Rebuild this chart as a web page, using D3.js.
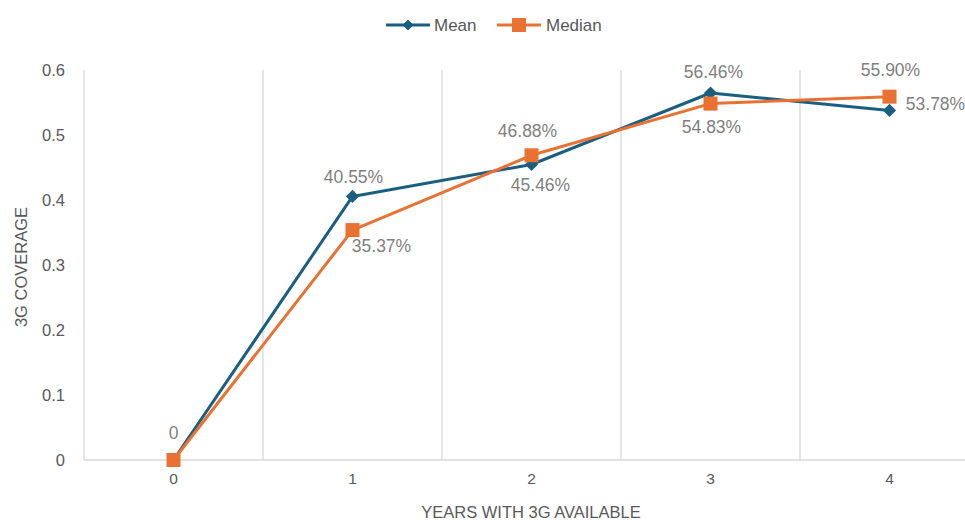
<!DOCTYPE html>
<html><head><meta charset="utf-8">
<script src="https://cdn.jsdelivr.net/npm/d3@7"></script>
<style>body{margin:0;background:#fff}svg{display:block}text{font-family:"Liberation Sans",Arial,sans-serif}</style>
</head><body><svg id="c" width="965" height="520"></svg>
<script>
const categories = ["0","1","2","3","4"];
const meanValues = [0, 0.4055, 0.4546, 0.5646, 0.5378];
const medianValues = [0, 0.3537, 0.4688, 0.5483, 0.5590];
const meanLabels = ["0", "40.55%", "45.46%", "56.46%", "53.78%"];
const medianLabels = ["", "35.37%", "46.88%", "54.83%", "55.90%"];
const yTicks = [0, 0.1, 0.2, 0.3, 0.4, 0.5, 0.6];
const yTickLabels = ["0", "0.1", "0.2", "0.3", "0.4", "0.5", "0.6"];
// label placement offsets (layout)
const meanLabelOffsets = [[0,-27],[1,-19],[9,20],[3,-21],[46,-6]];
const medianLabelOffsets = [[0,0],[29,16],[-4,-24],[1,23],[1,-27]];

const svg = d3.select("#c");
const x = d3.scaleBand().domain(categories).range([84, 979]).padding(0);
const y = d3.scaleLinear().domain([0, 0.6]).range([460, 70]);
const C_MEAN = "#1b5f80", C_MED = "#e97132", GRID = "#d9d9d9";
const FONT = '"Liberation Sans",Arial,sans-serif';

// vertical gridlines at category boundaries
const bounds = categories.map(c => x(c)).concat([x.range()[1]]);
svg.append("g").selectAll("line").data(bounds).join("line")
  .attr("x1", d => d).attr("x2", d => d).attr("y1", y(0.6)).attr("y2", y(0))
  .attr("stroke", GRID).attr("stroke-width", 1.3);
// bottom axis line
svg.append("line").attr("x1", 84).attr("x2", 965).attr("y1", y(0)).attr("y2", y(0))
  .attr("stroke", GRID).attr("stroke-width", 1.5);

// y axis labels
const yAxis = d3.axisLeft(y).tickValues(yTicks).tickFormat((d,i) => yTickLabels[i]).tickSize(0).tickPadding(19);
const gy = svg.append("g").attr("transform", "translate(84,0)").call(yAxis);
gy.select(".domain").remove();
gy.selectAll("text").attr("font-size", 16.5).attr("fill", "#595959").style("font-family", FONT);

// x axis labels
const xAxis = d3.axisBottom(x).tickSize(0).tickPadding(13);
const gx = svg.append("g").attr("transform", `translate(0,${y(0)})`).call(xAxis);
gx.select(".domain").remove();
gx.selectAll("text").attr("font-size", 15.5).attr("fill", "#595959").style("font-family", FONT);

// axis titles
svg.append("text").attr("x", 531).attr("y", 512).attr("text-anchor", "middle").attr("dominant-baseline", "central")
  .attr("font-size", 16.5).attr("fill", "#595959").text("YEARS WITH 3G AVAILABLE");
svg.append("text").attr("transform", "translate(21,267) rotate(-90)").attr("text-anchor", "middle").attr("dominant-baseline", "central")
  .attr("font-size", 16.5).attr("fill", "#595959").text("3G COVERAGE");

const cx = (d,i) => x(categories[i]) + x.bandwidth()/2;
const line = d3.line().x((d,i) => cx(d,i)).y(d => y(d));

function series(vals, color, marker) {
  svg.append("path").datum(vals).attr("d", line).attr("fill", "none")
    .attr("stroke", color).attr("stroke-width", 3).attr("stroke-linejoin", "round");
  const g = svg.append("g");
  vals.forEach((v,i) => {
    if (marker === "diamond") {
      g.append("path").attr("d", d3.symbol(d3.symbolDiamond2, 110)()).attr("transform", `translate(${cx(v,i)},${y(v)})`).attr("fill", color);
    } else {
      g.append("rect").attr("x", cx(v,i)-7).attr("y", y(v)-7).attr("width", 14).attr("height", 14).attr("fill", color);
    }
  });
}
series(meanValues, C_MEAN, "diamond");
series(medianValues, C_MED, "square");

function labels(vals, texts, offs) {
  vals.forEach((v,i) => {
    if (!texts[i]) return;
    const [dx, dy] = offs[i];
    svg.append("text").attr("x", cx(v,i) + dx).attr("y", y(v) + dy)
      .attr("text-anchor", "middle").attr("dominant-baseline", "central")
      .attr("font-size", 17.5).attr("fill", "#7f7f7f").text(texts[i]);
  });
}
labels(meanValues, meanLabels, meanLabelOffsets);
labels(medianValues, medianLabels, medianLabelOffsets);

// legend
const lg = svg.append("g").attr("transform", "translate(0,25)");
lg.append("line").attr("x1", 386).attr("x2", 430).attr("stroke", C_MEAN).attr("stroke-width", 3);
lg.append("path").attr("d", d3.symbol(d3.symbolDiamond2, 80)()).attr("transform", "translate(408,0)").attr("fill", C_MEAN);
lg.append("text").attr("x", 434).attr("y", 0).attr("dominant-baseline", "central").attr("font-size", 17).attr("fill", "#595959").text("Mean");
lg.append("line").attr("x1", 497).attr("x2", 541).attr("stroke", C_MED).attr("stroke-width", 3);
lg.append("rect").attr("x", 512).attr("y", -7).attr("width", 14).attr("height", 14).attr("fill", C_MED);
lg.append("text").attr("x", 546).attr("y", 0).attr("dominant-baseline", "central").attr("font-size", 17).attr("fill", "#595959").text("Median");
</script></body></html>
